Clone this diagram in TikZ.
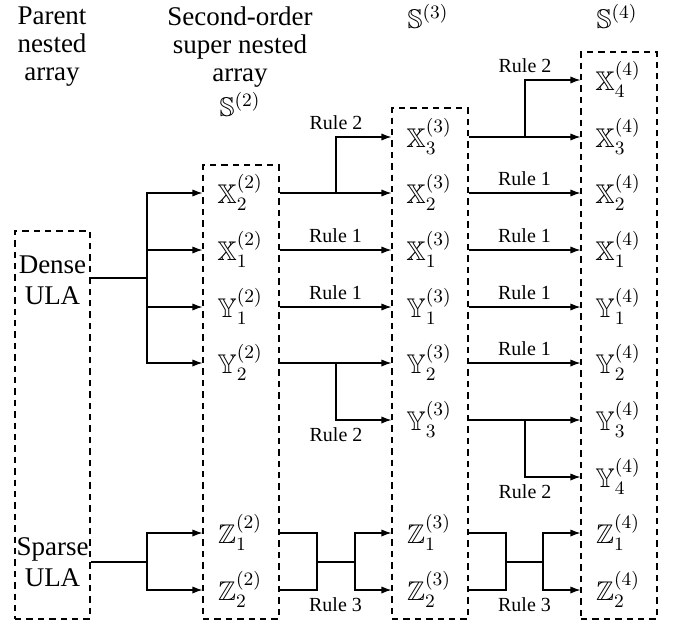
\documentclass[tikz,border=0pt]{standalone}
\usepackage{fix-cm}
\usepackage{amssymb}
\usepackage[no-math]{fontspec}
\setmainfont{Liberation Serif}
\usetikzlibrary{arrows.meta,fit}
\DeclareMathSizes{13.5}{13.5}{9.45}{6.75}

\begin{document}
\begin{tikzpicture}[x=0.5pt,y=-0.5pt,
  colbox/.style={draw,dash pattern=on 3.2pt off 2.5pt,inner sep=0pt,line width=0.55pt},
  wire/.style={line width=0.55pt},
  arr/.style={wire,-{Latex[length=5pt,width=3.6pt]}},
  sym/.style={inner sep=0pt,anchor=base,font=\fontsize{13.5}{16}\selectfont},
  head/.style={align=center,inner sep=0pt,font=\fontsize{13.5}{14}\selectfont},
  ula/.style={align=center,inner sep=0pt,font=\fontsize{13.5}{15.5}\selectfont},
  rulelbl/.style={font=\fontsize{10}{12}\selectfont,inner sep=3.5pt}]

\useasboundingbox (0,0) rectangle (681,623);

% row levels
\coordinate (rX4) at (0,80);
\coordinate (rX3) at (0,137);
\coordinate (rX2) at (0,193);
\coordinate (rX1) at (0,250);
\coordinate (rY1) at (0,307);
\coordinate (rY2) at (0,363);
\coordinate (rY3) at (0,420);
\coordinate (rY4) at (0,477);
\coordinate (rZ1) at (0,533);
\coordinate (rZ2) at (0,590);

% column boxes
\node[colbox,fit={(15,231)(90,619)}] (b1) {};
\node[colbox,fit={(203,165)(279,619)}] (b2) {};
\node[colbox,fit={(392,108)(468,619)}] (b3) {};
\node[colbox,fit={(581,52)(657,619)}] (b4) {};

% headings
\node[head] (hP) at (52,47) {Parent\\nested\\array};
\node[head] (hS) at (240,47) {Second-order\\super nested\\array};
\node[sym] (s2) at (240,116) {$\mathbb{S}^{(2)}$};
\node[sym] (s3) at (428,28) {$\mathbb{S}^{(3)}$};
\node[sym] (s4) at (617,28) {$\mathbb{S}^{(4)}$};

% parent arrays
\node[ula] (dense) at (52.5,280) {Dense\\ULA};
\node[ula] (sparse) at (52.5,562) {Sparse\\ULA};

% second-order column
\node[sym] (x22) at (240,203) {$\mathbb{X}_2^{(2)}$};
\node[sym] (x12) at (240,260) {$\mathbb{X}_1^{(2)}$};
\node[sym] (y12) at (240,317) {$\mathbb{Y}_1^{(2)}$};
\node[sym] (y22) at (240,373) {$\mathbb{Y}_2^{(2)}$};
\node[sym] (z12) at (240,543) {$\mathbb{Z}_1^{(2)}$};
\node[sym] (z22) at (240,600) {$\mathbb{Z}_2^{(2)}$};

% third-order column
\node[sym] (x33) at (429,147) {$\mathbb{X}_3^{(3)}$};
\node[sym] (x23) at (429,203) {$\mathbb{X}_2^{(3)}$};
\node[sym] (x13) at (429,260) {$\mathbb{X}_1^{(3)}$};
\node[sym] (y13) at (429,317) {$\mathbb{Y}_1^{(3)}$};
\node[sym] (y23) at (429,373) {$\mathbb{Y}_2^{(3)}$};
\node[sym] (y33) at (429,430) {$\mathbb{Y}_3^{(3)}$};
\node[sym] (z13) at (429,543) {$\mathbb{Z}_1^{(3)}$};
\node[sym] (z23) at (429,600) {$\mathbb{Z}_2^{(3)}$};

% fourth-order column
\node[sym] (x44) at (618,90) {$\mathbb{X}_4^{(4)}$};
\node[sym] (x34) at (618,147) {$\mathbb{X}_3^{(4)}$};
\node[sym] (x24) at (618,203) {$\mathbb{X}_2^{(4)}$};
\node[sym] (x14) at (618,260) {$\mathbb{X}_1^{(4)}$};
\node[sym] (y14) at (618,317) {$\mathbb{Y}_1^{(4)}$};
\node[sym] (y24) at (618,373) {$\mathbb{Y}_2^{(4)}$};
\node[sym] (y34) at (618,430) {$\mathbb{Y}_3^{(4)}$};
\node[sym] (y44) at (618,487) {$\mathbb{Y}_4^{(4)}$};
\node[sym] (z14) at (618,543) {$\mathbb{Z}_1^{(4)}$};
\node[sym] (z24) at (618,600) {$\mathbb{Z}_2^{(4)}$};

% dense ULA fan-out
\coordinate (jD) at (147,278);
\draw[wire] (b1.east |- jD) -- (jD);
\foreach \r in {rX2,rX1,rY1,rY2}
  \draw[arr] (jD) |- (b2.west |- \r);

% sparse ULA fan-out
\coordinate (jS) at (147,562);
\draw[wire] (b1.east |- jS) -- (jS);
\foreach \r in {rZ1,rZ2}
  \draw[arr] (jS) |- (b2.west |- \r);

% second to third order
\coordinate (jA) at (336,193);
\coordinate (jB) at (336,363);
\draw[arr] (b2.east |- rX2) -- (b3.west |- rX2);
\draw[arr] (jA) |- (b3.west |- rX3) node[rulelbl,pos=0.5,above] {Rule 2};
\draw[arr] (b2.east |- rX1) -- node[rulelbl,above] {Rule 1} (b3.west |- rX1);
\draw[arr] (b2.east |- rY1) -- node[rulelbl,above] {Rule 1} (b3.west |- rY1);
\draw[arr] (b2.east |- rY2) -- (b3.west |- rY2);
\draw[arr] (jB) |- (b3.west |- rY3) node[rulelbl,pos=0.5,below] {Rule 2};

\coordinate (zL) at (317,562);
\coordinate (zR) at (355,562);
\draw[wire] (b2.east |- rZ1) -| (zL |- rZ2) -- (b2.east |- rZ2);
\draw[wire] (zL) -- (zR);
\draw[arr] (zR) |- (b3.west |- rZ1);
\draw[arr] (zR) |- (b3.west |- rZ2);
\path (b2.east |- rZ2) -- node[rulelbl,below] {Rule 3} (b3.west |- rZ2);

% third to fourth order
\coordinate (jC) at (525,137);
\coordinate (jE) at (525,420);
\draw[arr] (b3.east |- rX3) -- (b4.west |- rX3);
\draw[arr] (jC) |- (b4.west |- rX4) node[rulelbl,pos=0.5,above] {Rule 2};
\foreach \r in {rX2,rX1,rY1,rY2}
  \draw[arr] (b3.east |- \r) -- node[rulelbl,above] {Rule 1} (b4.west |- \r);
\draw[arr] (b3.east |- rY3) -- (b4.west |- rY3);
\draw[arr] (jE) |- (b4.west |- rY4) node[rulelbl,pos=0.5,below] {Rule 2};

\coordinate (zL2) at (506,562);
\coordinate (zR2) at (543,562);
\draw[wire] (b3.east |- rZ1) -| (zL2 |- rZ2) -- (b3.east |- rZ2);
\draw[wire] (zL2) -- (zR2);
\draw[arr] (zR2) |- (b4.west |- rZ1);
\draw[arr] (zR2) |- (b4.west |- rZ2);
\path (b3.east |- rZ2) -- node[rulelbl,below] {Rule 3} (b4.west |- rZ2);

\end{tikzpicture}
\end{document}
